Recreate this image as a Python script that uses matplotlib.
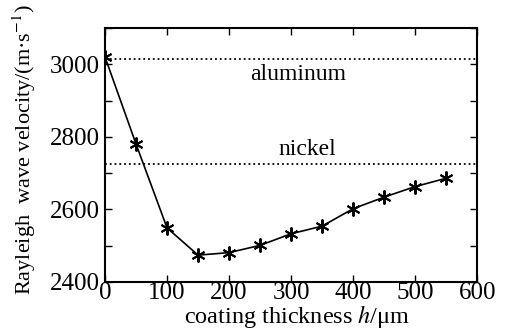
import matplotlib.pyplot as plt

# Data
thickness = [0, 50, 100, 150, 200, 250, 300, 350, 400, 450, 500, 550]
velocity = [3020, 2780, 2549, 2474, 2481, 2501, 2533, 2554, 2602, 2634, 2663, 2686]
aluminum_v = 3015
nickel_v = 2725

plt.rcParams['font.family'] = ['Liberation Serif', 'DejaVu Serif']
plt.rcParams['mathtext.fontset'] = 'stix'

fig = plt.figure(figsize=(5.05, 3.30), dpi=100)
ax = fig.add_axes([0.208, 0.1455, 0.737, 0.7695])

ax.plot([0, 600], [aluminum_v, aluminum_v], color='black', linestyle=':', linewidth=1.3)
ax.plot([0, 600], [nickel_v, nickel_v], color='black', linestyle=':', linewidth=1.3)
ax.plot(thickness, velocity, color='black', linewidth=1.2,
        marker=(6, 2, 0), markersize=10, markeredgewidth=1.4)

ax.text(311, 2973, 'aluminum', fontsize=17, ha='center', va='center')
ax.text(326, 2765, 'nickel', fontsize=17, ha='center', va='center')

ax.set_xlim(0, 600)
ax.set_ylim(2400, 3100)
ax.set_xticks([0, 100, 200, 300, 400, 500, 600])
ax.set_yticks([2400, 2500, 2600, 2700, 2800, 2900, 3000, 3100])
ax.set_yticklabels(['2400', '', '2600', '', '2800', '', '3000', ''])
ax.tick_params(direction='in', top=True, right=True, length=5, width=1,
               labelsize=18)
ax.tick_params(axis='x', pad=0)
ax.tick_params(axis='y', pad=4)
for s in ax.spines.values():
    s.set_linewidth(1.5)

ax.set_xlabel('coating thickness $h$/μm', fontsize=17.5)
ax.xaxis.set_label_coords(0.516, -0.082)
ax.set_ylabel('Rayleigh  wave velocity/(m·s$^{-1}$)', fontsize=16)
ax.yaxis.set_label_coords(-0.18, 0.52)

fig.savefig('out.png', dpi=100)
